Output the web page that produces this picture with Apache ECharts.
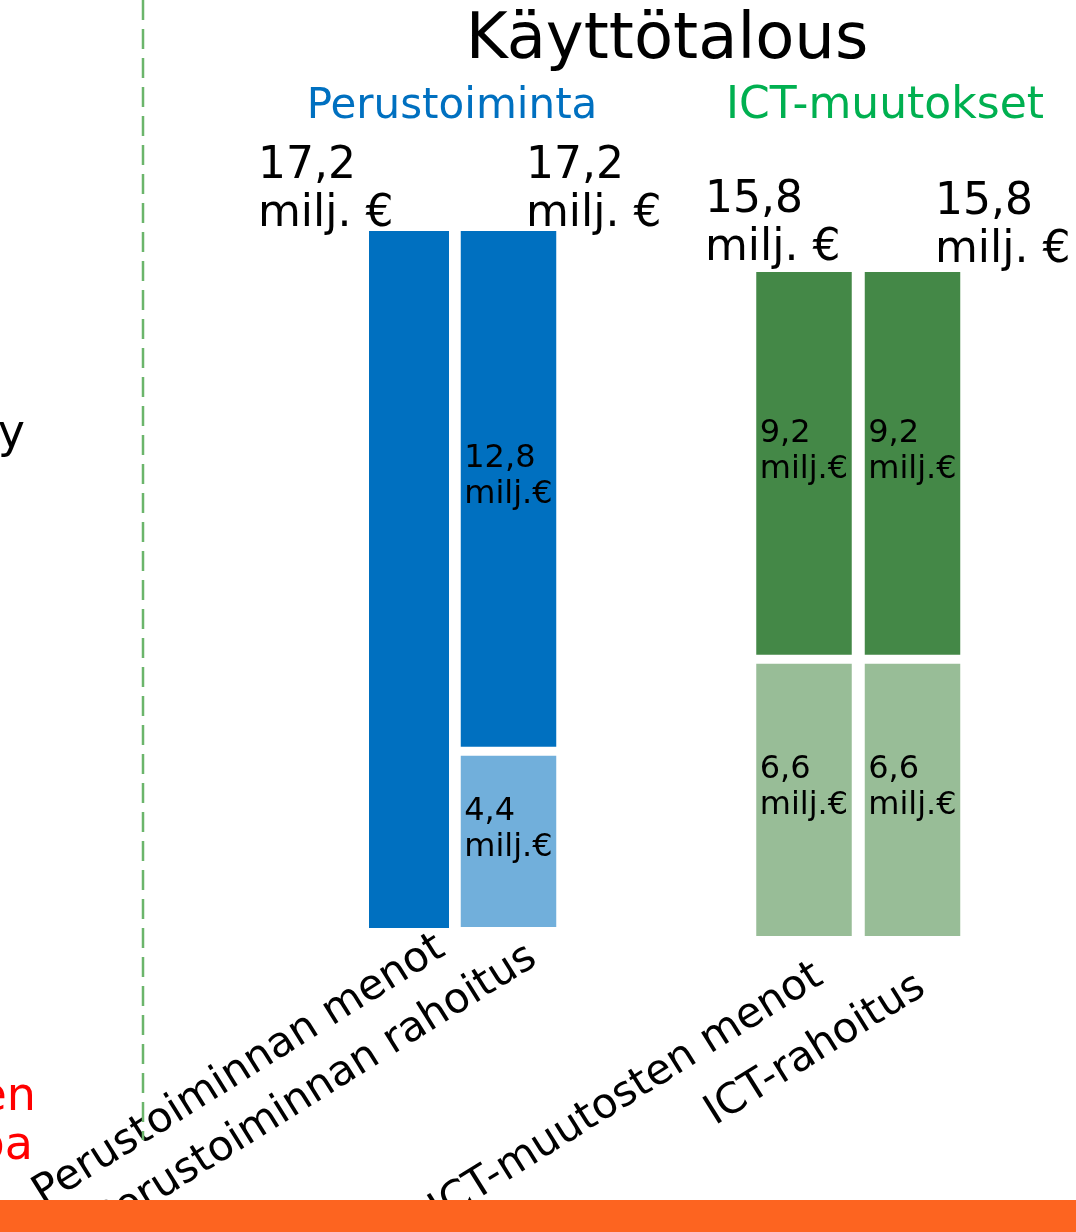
<!DOCTYPE html>
<html>
<head>
<meta charset="utf-8">
<style>
  html, body { margin: 0; padding: 0; background: #ffffff; }
  #chart { width: 1076px; height: 1232px; }
</style>
<script src="https://cdn.jsdelivr.net/npm/echarts@6/dist/echarts.min.js"></script>
</head>
<body>
<div id="chart"></div>
<script>
// ---- data ----
const categories = ['Perustoiminnan menot', 'Perustoiminnan rahoitus', 'ICT-muutosten menot', 'ICT-rahoitus'];
const upperValues = [17.2, 12.8, 9.2, 9.2];
const lowerValues = [null, 4.4, 6.6, 6.6];
const groupTitles = ['Perustoiminta', 'ICT-muutokset'];
const mainTitle = 'Käyttötalous';

// ---- layout / style ----
const FONT = 'DejaVu Sans';
const upperColors = ['#0070C0', '#0070C0', '#448847', '#448847'];
const lowerColors = ['#71AFDB', '#71AFDB', '#98BD97', '#98BD97'];
const gridBox = [
  { left: 359,   top: 231,   bottom: 304 },
  { left: 458.5, top: 226.5, bottom: 300.5 },
  { left: 754,   top: 267.5, bottom: 291.5 },
  { left: 862.5, top: 267.5, bottom: 291.5 }
];
const barWidths = [80, 106, 105, 106];
const borderWidths = [0, 4.5, 4.5, 4.5];
const totalLabelOffset = [[-151, 8], [17.5, 12.5], [-99, 5], [22.5, 7.5]];
const axisLabelMargin = [37, 38, 42, 49];
const axisLabelShift = [38, 29, 18, 11];

const fmt = v => v.toFixed(1).replace('.', ',');
const totals = upperValues.map((u, i) => +(u + (lowerValues[i] || 0)).toFixed(1));

const grids = [], xAxes = [], yAxes = [], series = [];
categories.forEach((cat, i) => {
  grids.push({
    left: gridBox[i].left, width: 100, top: gridBox[i].top, bottom: gridBox[i].bottom,
    containLabel: false, outerBoundsMode: 'none'
  });
  xAxes.push({
    type: 'category', gridIndex: i, data: [cat],
    axisLine: { show: false }, axisTick: { show: false }, splitLine: { show: false },
    axisLabel: {
      interval: 0, rotate: 32, fontFamily: FONT, fontSize: 42, color: '#000',
      margin: axisLabelMargin[i], padding: [0, -axisLabelShift[i], 0, 0]
    }
  });
  yAxes.push({ type: 'value', gridIndex: i, min: 0, max: totals[i], show: false, splitLine: { show: false } });
  const border = borderWidths[i] ? { borderColor: '#ffffff', borderWidth: borderWidths[i] } : {};
  const innerLabel = {
    show: true, position: 'insideLeft', distance: 8, offset: [0, -12],
    fontFamily: FONT, fontSize: 32, lineHeight: 36, color: '#000', align: 'left',
    formatter: p => fmt(p.value) + '\nmilj.€'
  };
  series.push({
    type: 'bar', xAxisIndex: i, yAxisIndex: i, stack: 's' + i, barWidth: barWidths[i],
    data: [lowerValues[i]],
    itemStyle: Object.assign({ color: lowerColors[i] }, border),
    label: innerLabel, emphasis: { disabled: true }, silent: true, animation: false
  });
  series.push({
    type: 'bar', xAxisIndex: i, yAxisIndex: i, stack: 's' + i, barWidth: barWidths[i],
    data: [upperValues[i]],
    itemStyle: Object.assign({ color: upperColors[i] }, border),
    label: Object.assign({}, innerLabel, { show: lowerValues[i] != null }),
    emphasis: { disabled: true }, silent: true, animation: false
  });
  series.push({
    type: 'scatter', xAxisIndex: i, yAxisIndex: i, symbolSize: 0,
    data: [totals[i]], z: 10,
    itemStyle: { opacity: 1 },
    label: {
      show: true, position: 'top', distance: 0, align: 'left', verticalAlign: 'bottom',
      offset: totalLabelOffset[i], fontFamily: FONT, fontSize: 44, lineHeight: 48, color: '#000',
      formatter: p => fmt(p.value) + '\nmilj. €'
    },
    emphasis: { disabled: true }, silent: true, animation: false
  });
});

const chart = echarts.init(document.getElementById('chart'), null, { renderer: 'canvas' });
chart.setOption({
  backgroundColor: '#ffffff',
  animation: false,
  grid: grids, xAxis: xAxes, yAxis: yAxes, series: series,
  graphic: [
    { type: 'text', x: 667, y: 9, style: { text: mainTitle, fill: '#000', font: '64px "DejaVu Sans"', align: 'center', verticalAlign: 'top' } },
    { type: 'text', x: 452, y: 86, style: { text: groupTitles[0], fill: '#0070C0', font: '42px "DejaVu Sans"', align: 'center', verticalAlign: 'top' } },
    { type: 'text', x: 885, y: 85, style: { text: groupTitles[1], fill: '#00B050', font: '44px "DejaVu Sans"', align: 'center', verticalAlign: 'top' } },
    { type: 'text', x: 25, y: 412, style: { text: 'y', fill: '#000', font: '46px "DejaVu Sans"', align: 'right', verticalAlign: 'top' } },
    { type: 'text', x: 36, y: 1075, style: { text: 'en', fill: '#FF0000', font: '46px "DejaVu Sans"', align: 'right', verticalAlign: 'top' } },
    { type: 'text', x: 33, y: 1124, style: { text: 'pa', fill: '#FF0000', font: '46px "DejaVu Sans"', align: 'right', verticalAlign: 'top' } },
    { type: 'line', shape: { x1: 143, y1: 0, x2: 143, y2: 1140 }, style: { stroke: '#6BB56B', lineWidth: 2.5, lineDash: [20, 9] }, z: 1 },
    { type: 'rect', shape: { x: 0, y: 1200, width: 1076, height: 32 }, style: { fill: '#FD6420' }, z: 100 }
  ]
});
</script>
</body>
</html>
